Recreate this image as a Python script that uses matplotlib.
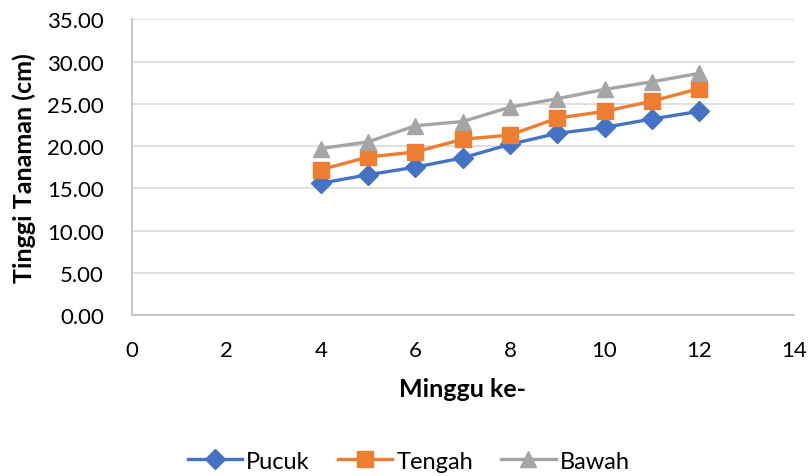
import matplotlib.pyplot as plt

# -------------------------
# Data
# -------------------------
minggu = [4, 5, 6, 7, 8, 9, 10, 11, 12]
pucuk = [15.6, 16.6, 17.5, 18.6, 20.2, 21.5, 22.2, 23.2, 24.1]
tengah = [17.2, 18.7, 19.3, 20.8, 21.3, 23.3, 24.1, 25.3, 26.8]
bawah = [19.7, 20.5, 22.4, 22.9, 24.6, 25.6, 26.7, 27.6, 28.6]

x_ticks = [0, 2, 4, 6, 8, 10, 12, 14]
y_ticks = [0, 5, 10, 15, 20, 25, 30, 35]

plt.rcParams['font.family'] = ['Lato', 'DejaVu Sans']

fig = plt.figure(figsize=(8.09, 4.77), dpi=100)
ax = fig.add_axes([0.163, 0.3375, 0.818, 0.62])

ax.plot(minggu, pucuk, color="#4472C4", lw=2.4, marker="D", ms=10.5, label="Pucuk", zorder=3)
ax.plot(minggu, tengah, color="#ED7D31", lw=2.4, marker="s", ms=11.5, label="Tengah", zorder=3)
ax.plot(minggu, bawah, color="#A5A5A5", lw=2.4, marker="^", ms=12, label="Bawah", zorder=3)

ax.set_xlim(0, 14)
ax.set_ylim(0, 35)
ax.set_xticks(x_ticks)
ax.set_yticks(y_ticks)
ax.set_yticklabels([f"{v:.2f}" for v in y_ticks])
ax.grid(axis="y", color="#D9D9D9", lw=1.2)
ax.set_axisbelow(True)

for side in ["top", "right"]:
    ax.spines[side].set_visible(False)
for side in ["left", "bottom"]:
    ax.spines[side].set_color("#BFBFBF")
    ax.spines[side].set_linewidth(1.2)

ax.tick_params(axis="both", length=0, labelsize=16)
ax.tick_params(axis="x", pad=18)
ax.tick_params(axis="y", pad=20)

ax.set_xlabel("Minggu ke-", fontsize=18, fontweight="bold", labelpad=12)
ax.set_ylabel("Tinggi Tanaman (cm)", fontsize=18, fontweight="bold", labelpad=8)

fig.legend(loc="center", bbox_to_anchor=(0.505, 0.031), ncol=3, frameon=False,
           fontsize=17, handlelength=2.3, columnspacing=1.2, handletextpad=0.17)

fig.savefig("out.png", dpi=100)
